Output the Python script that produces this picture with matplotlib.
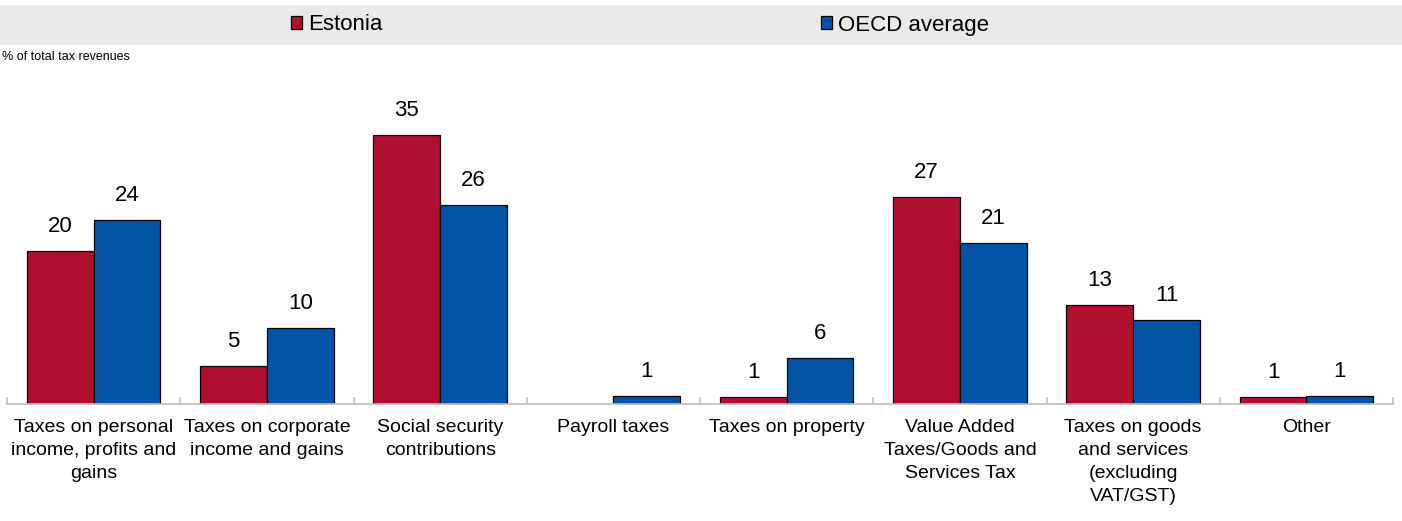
import matplotlib
matplotlib.use("Agg")
import matplotlib.pyplot as plt
import numpy as np
from matplotlib.patches import Rectangle

plt.rcParams['font.family'] = ['Liberation Sans', 'DejaVu Sans']

categories = [
    "Taxes on personal\nincome, profits and\ngains",
    "Taxes on corporate\nincome and gains",
    "Social security\ncontributions",
    "Payroll taxes",
    "Taxes on property",
    "Value Added\nTaxes/Goods and\nServices Tax",
    "Taxes on goods\nand services\n(excluding\nVAT/GST)",
    "Other",
]
estonia = [19.9, 4.9, 35.0, 0.0, 0.9, 26.9, 12.9, 0.9]
oecd = [23.9, 9.9, 25.9, 1.0, 6.0, 20.9, 10.9, 1.0]
series_names = ["Estonia", "OECD average"]
colors = ["#B01030", "#0053A5"]

W, H = 1402, 521
fig = plt.figure(figsize=(W / 100, H / 100), dpi=100)
ax = fig.add_axes([7 / W, (H - 404) / H, (1393 - 7) / W, (404 - 96) / H])

# grey legend band
fig.patches.append(Rectangle((0, 1 - 45 / H), 1, 40 / H, transform=fig.transFigure,
                             facecolor="#E9E9E9", edgecolor="none", zorder=0))

x = np.arange(len(categories))
bw = 0.385
b1 = ax.bar(x - bw / 2, estonia, bw, color=colors[0], edgecolor="black", linewidth=0.9, label=series_names[0])
b2 = ax.bar(x + bw / 2, oecd, bw, color=colors[1], edgecolor="black", linewidth=0.9, label=series_names[1])

for bars, vals in ((b1, estonia), (b2, oecd)):
    for rect, v in zip(bars, vals):
        if round(v) == 0:
            continue
        ax.annotate(f"{v:.0f}", (rect.get_x() + rect.get_width() / 2, v),
                    xytext=(0, 10), textcoords="offset points",
                    ha="center", va="bottom", fontsize=16)

ax.set_xlim(-0.5, len(categories) - 0.5)
ax.set_ylim(0, 40)
ax.set_yticks([])
for s in ("top", "right", "left"):
    ax.spines[s].set_visible(False)
ax.spines["bottom"].set_color("#BDBDBD")
ax.spines["bottom"].set_linewidth(1.2)

ax.set_xticks(x, categories, fontsize=14, linespacing=1.45)
ax.tick_params(axis="x", length=0, pad=11)
ax.set_xticks(np.arange(len(categories) + 1) - 0.5, minor=True)
ax.tick_params(axis="x", which="minor", direction="in", length=5, color="#BDBDBD", width=1.2)

fig.text(2 / W, 1 - 57 / H, "% of total tax revenues", fontsize=9, va="center", ha="left")

leg_kw = dict(frameon=False, fontsize=16, handlelength=0.5, handleheight=0.5,
              handletextpad=0.25, borderpad=0, borderaxespad=0, loc="center left")
l1 = fig.legend(handles=[b1], labels=[series_names[0]], bbox_to_anchor=(291 / W, 1 - 25 / H), **leg_kw)
l2 = fig.legend(handles=[b2], labels=[series_names[1]], bbox_to_anchor=(821 / W, 1 - 25 / H), **leg_kw)

fig.savefig("out.png", dpi=100)
